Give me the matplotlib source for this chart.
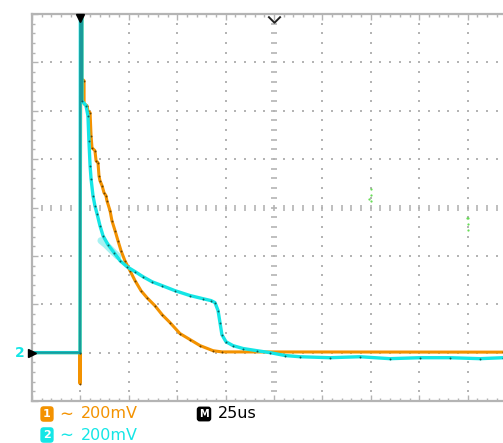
import numpy as np
import matplotlib
matplotlib.use("Agg")
import matplotlib.pyplot as plt
from matplotlib.path import Path

# ---------------- data (time in us, voltage in mV relative to channel ground) ----------------
ch1_t = [-125.0, -100.2, -100.2, -99.7, -99.2, -99.2, -98.1, -98.1, -96.6, -96.1, -95.0, -94.5,
         -94.0, -92.5, -91.9, -90.9, -90.4, -89.9, -88.8, -87.8, -86.8, -86.3, -84.7, -83.7,
         -82.1, -80.6, -79.0, -77.0, -74.4, -71.8, -68.7, -65.6, -61.5, -57.8, -53.7, -48.6,
         -43.4, -38.2, -31.5, -26.9, 118.3]
ch1_v = [0, 0, -128, 1600, 1600, 1132, 1124, 1029, 1021, 1000, 992, 897,
         847, 835, 793, 785, 731, 711, 690, 661, 649, 628, 587, 545,
         504, 463, 421, 380, 339, 298, 256, 227, 194, 157, 124, 79,
         54, 29, 8, 3, 2]

ch2_t = [-125.0, -100.2, -100.0, -99.2, -99.2, -97.1, -96.1, -95.6, -95.0, -94.5, -93.5, -92.5,
         -91.4, -89.9, -88.3, -85.7, -82.6, -79.5, -75.9, -71.8, -67.7, -63.0, -57.8, -51.1,
         -43.4, -36.7, -32.5, -30.5, -28.9, -27.9, -26.9, -24.8, -21.2, -16.0, -8.8, -2.1,
         5.7, 13.4, 28.9, 44.4, 59.9, 75.4, 90.9, 106.4, 118.3]
ch2_v = [0, 0, 1600, 1600, 1041, 1021, 979, 876, 773, 719, 649, 607,
         574, 525, 483, 446, 413, 380, 355, 335, 314, 293, 277, 256,
         236, 223, 215, 207, 174, 124, 74, 45, 29, 17, 8, 0,
         -12, -17, -21, -17, -25, -21, -21, -25, -21]

# faint persistence patch on channel 2
ghost_t = [-89.4, -86.8, -83.7, -80.6]
ghost_v = [463, 446, 421, 398]

# stray green dots
green_t = [50.1, 50.1, 49.3, 50.1, 99.5, 100.3, 100.3, 100.3]
green_v = [676, 651, 634, 628, 556, 556, 531, 508]

ch_labels = ["200mV", "200mV"]
timebase_label = "25us"

ORANGE = "#F39200"
CYAN = "#14E6E6"
GRID = "#b4b4b4"

W, H = 503, 443
fig = plt.figure(figsize=(W / 100, H / 100), dpi=100)
fig.patch.set_facecolor("white")

left_px, top_px, bot_px = 32, 14, 401
ax = fig.add_axes([left_px / W, 1 - bot_px / H, 1 - left_px / W, (bot_px - top_px) / H])
ax.set_xlim(-125, -125 + (W - left_px) / 48.4 * 25)
ax.set_ylim(-200, 1400)
ax.set_facecolor("white")

# spines & ticks
for s in ["top", "left", "bottom"]:
    ax.spines[s].set_color(GRID)
    ax.spines[s].set_linewidth(1.6)
ax.spines["right"].set_visible(False)
ax.set_xticks(np.arange(-125, 118, 25))
ax.set_xticks(np.arange(-125, 118.3, 5), minor=True)
ax.set_yticks(np.arange(-200, 1401, 200))
ax.set_yticks(np.arange(-200, 1401, 40), minor=True)
ax.tick_params(which="both", direction="in", top=True, bottom=True, left=True, right=False,
               labelbottom=False, labelleft=False, color=GRID, width=1)
ax.tick_params(which="major", length=4)
ax.tick_params(which="minor", length=2.5)

# dotted graticule
minor_y = np.arange(-200, 1401, 40)
minor_x = np.arange(-125, 118.3, 5)
for k in range(-4, 5):
    x = k * 25
    if k == 0:
        ax.plot(np.full(len(minor_y), x), minor_y, ls="none", marker="_", ms=4.5,
                mew=1.2, color=GRID, zorder=1)
    else:
        ax.plot(np.full(len(minor_y), x), minor_y, ls="none", marker="s", ms=1.5,
                mew=0, color=GRID, zorder=1)
for j in range(0, 7):
    y = j * 200
    if y == 600:
        ax.plot(minor_x, np.full(len(minor_x), y), ls="none", marker="|", ms=4.5,
                mew=1.2, color=GRID, zorder=1)
    else:
        ax.plot(minor_x, np.full(len(minor_x), y), ls="none", marker="s", ms=1.5,
                mew=0, color=GRID, zorder=1)

# traces
ax.plot(ghost_t, ghost_v, color="#A6F2F2", lw=5, solid_capstyle="round", zorder=2)
ax.plot(ch1_t, ch1_v, color=ORANGE, lw=2.2, zorder=3)
ax.plot(ch1_t, ch1_v, ls="none", marker="o", ms=1.4, mew=0, color="#6b4200", zorder=3.5)
ax.plot(ch2_t, ch2_v, color=CYAN, lw=2.4, zorder=4)
ax.plot(ch2_t[:5], ch2_v[:5], color="#1a9a9a", lw=1.6, zorder=4.2)
ax.plot(ch2_t, ch2_v, ls="none", marker="o", ms=1.4, mew=0, color="#0b5e5e", zorder=4.5)
ax.plot(green_t, green_v, ls="none", marker="o", ms=1.6, mew=0, color="#66dd55", zorder=2)

# markers: trigger position, centre chevron, channel-2 ground
ax.plot([-100], [1385], marker="v", ms=6, color="black", clip_on=False, zorder=6)
chev = Path([(-1, 0.8), (0, -0.2), (1, 0.8)], [Path.MOVETO, Path.LINETO, Path.LINETO])
ax.plot([0], [1372], marker=chev, ms=9, mfc="none", mec="#222222", mew=1.4,
        clip_on=False, zorder=6)
ax.plot([-125], [0], marker=">", ms=5.5, color="black", clip_on=False, zorder=6)
ax.annotate("2", xy=(-125, 0), xytext=(-7, 0), textcoords="offset pixels",
            ha="right", va="center", color=CYAN, fontsize=10, fontweight="bold",
            annotation_clip=False)

# bottom status text
def fx(px):
    return px / W

def fy(py):
    return 1 - py / H

fs = 11.5
fig.text(fx(47), fy(414), "1", color="white", fontsize=8, fontweight="bold", ha="center",
         va="center", bbox=dict(boxstyle="round,pad=0.25,rounding_size=0.3", fc=ORANGE, ec="none"))
fig.text(fx(66), fy(414), "\u223c", color=ORANGE, fontsize=12, ha="center", va="center")
fig.text(fx(81), fy(414), ch_labels[0], color=ORANGE, fontsize=fs, ha="left", va="center")

fig.text(fx(47), fy(435), "2", color="white", fontsize=8, fontweight="bold", ha="center",
         va="center", bbox=dict(boxstyle="round,pad=0.25,rounding_size=0.3", fc=CYAN, ec="none"))
fig.text(fx(66), fy(435), "\u223c", color=CYAN, fontsize=12, ha="center", va="center")
fig.text(fx(81), fy(435), ch_labels[1], color=CYAN, fontsize=fs, ha="left", va="center")

fig.text(fx(204), fy(414), "M", color="white", fontsize=7, fontweight="bold", ha="center",
         va="center", bbox=dict(boxstyle="round,pad=0.25,rounding_size=0.3", fc="black", ec="none"))
fig.text(fx(218), fy(414), timebase_label, color="black", fontsize=fs, ha="left", va="center")

fig.savefig("out.png", dpi=100, facecolor="white")
